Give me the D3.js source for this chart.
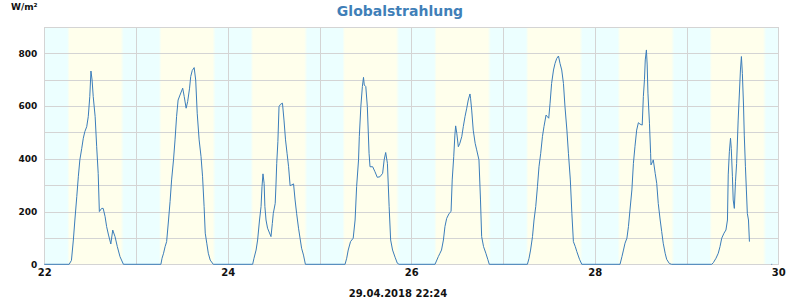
<!DOCTYPE html>
<html>
<head>
<meta charset="utf-8">
<script src="https://cdn.jsdelivr.net/npm/d3@7"></script>
<style>
  body { margin: 0; background: #fff; }
  .chart text { font-family: "DejaVu Sans", sans-serif; font-weight: bold; }
</style>
</head>
<body>
<div class="chart"></div>
<script>
// days shown (April 2018)
var days = [22, 23, 24, 25, 26, 27, 28, 29];

// hour of day of each reading, one list per day
var dayHours = [
  [0, 6.5, 7.1, 7.6, 8.0, 8.5, 8.9, 9.3, 9.8, 10.2, 10.6, 11.1, 11.5, 11.9, 12.2, 12.5, 12.8, 13.3, 13.7, 14.1, 14.4, 15.0, 15.4, 15.9, 16.3, 16.8, 17.4, 17.9, 18.5, 19.1, 19.8, 20.7],
  [6.5, 6.8, 7.2, 7.6, 8.0, 8.5, 8.9, 9.3, 9.8, 10.2, 10.6, 11.0, 11.5, 12.2, 12.6, 13.1, 13.5, 14.0, 14.3, 14.7, 15.2, 15.6, 16.0, 16.5, 17.0, 17.4, 17.8, 18.1, 18.5, 18.9, 19.4, 20.2],
  [6.5, 6.85, 7.4, 7.8, 8.3, 8.7, 8.95, 9.2, 9.5, 9.7, 10.0, 10.4, 11.3, 11.65, 11.9, 12.4, 12.6, 12.8, 13.1, 13.4, 13.8, 14.3, 14.7, 15.1, 15.5, 15.9, 16.3, 16.7, 17.2, 17.6, 18.0, 18.5, 18.9, 19.3, 19.8, 20.3],
  [6.67, 7.1, 7.5, 8.1, 8.8, 9.3, 9.7, 10.2, 10.4, 10.8, 11.2, 11.5, 11.7, 12.1, 12.5, 12.95, 13.2, 13.9, 14.5, 15.1, 15.8, 16.5, 16.9, 17.3, 17.75, 18.2, 18.6, 19.1, 19.75, 20.35, 20.8],
  [6.2, 7.07, 7.5, 7.9, 8.4, 8.8, 9.25, 9.9, 10.4, 10.7, 11.1, 11.4, 11.6, 11.9, 12.3, 12.7, 13.2, 13.6, 14.05, 14.5, 14.9, 15.35, 15.5, 15.8, 16.2, 16.7, 17.1, 17.7, 18.1, 18.4, 18.9, 19.5, 20.0, 20.4],
  [6.37, 6.8, 7.2, 7.7, 8.1, 8.55, 9.0, 9.4, 9.85, 10.3, 10.7, 11.25, 11.6, 11.95, 12.3, 12.7, 13.2, 13.6, 14.05, 14.5, 14.9, 15.35, 15.8, 16.2, 16.7, 17.1, 17.6, 18.0, 18.4, 18.9, 19.3, 20.0, 20.6],
  [6.6, 7.1, 7.5, 7.9, 8.4, 8.8, 9.2, 9.7, 10.1, 10.5, 10.95, 11.4, 11.8, 12.4, 12.7, 13.0, 13.2, 13.5, 13.7, 13.9, 14.3, 14.6, 14.7, 15.1, 15.3, 15.8, 16.2, 16.6, 17.1, 17.5, 17.9, 18.4, 18.8, 19.5, 20.1],
  [6.6, 7.0, 7.7, 8.3, 8.75, 9.2, 9.8, 10.3, 10.7, 10.9, 11.2, 11.5, 11.7, 12.0, 12.2, 12.5, 12.8, 13.1, 13.5, 13.8, 14.1, 14.35, 14.6, 14.9, 15.1, 15.4, 15.65, 15.9, 16.2, 16.45, 16.5, 22.2, 22.4]
];

// global radiation in W/m², same order (null = no reading)
var dayWatts = [
  [0, 0, 15, 92, 168, 257, 332, 396, 440, 478, 503, 522, 560, 636, 733, 699, 636, 560, 446, 345, 200, 212, 212, 181, 143, 111, 77, 130, 105, 67, 29, 0],
  [0, 23, 42, 67, 86, 168, 238, 320, 396, 472, 560, 623, 642, 668, 636, 592, 617, 668, 712, 735, 746, 699, 573, 472, 408, 332, 219, 118, 80, 42, 16, 0],
  [0, 23, 54, 92, 168, 219, 295, 343, 307, 219, 168, 137, 105, 155, 193, 231, 301, 383, 465, 598, 607, 611, 547, 472, 421, 370, 298, 301, 305, 244, 193, 137, 99, 61, 35, 0],
  [0, 23, 54, 86, 99, 168, 295, 396, 484, 598, 674, 709, 680, 674, 598, 421, 370, 370, 351, 330, 332, 345, 396, 424, 383, 219, 92, 54, 27, 4, 0],
  [0, 29, 42, 54, 92, 143, 174, 193, 200, 320, 408, 490, 525, 497, 446, 459, 484, 522, 560, 592, 623, 646, 630, 585, 509, 459, 434, 396, 244, 105, 67, 42, 19, 0],
  [0, 23, 54, 105, 168, 219, 295, 370, 421, 484, 522, 566, 560, 554, 611, 686, 737, 762, 781, 790, 762, 737, 686, 598, 509, 421, 320, 193, 86, 67, 48, 19, 0],
  [0, 29, 54, 80, 99, 143, 206, 282, 383, 446, 509, 537, 532, 528, 636, 702, 775, 813, 756, 649, 535, 421, 377, 389, 396, 345, 307, 231, 168, 124, 80, 42, 19, 3, 0],
  [0, 6, 23, 42, 67, 99, 118, 130, 168, 339, 427, 478, 440, 332, 244, 212, 313, 383, 547, 642, 737, 788, 724, 604, 490, 370, 282, 193, 168, 86, null, 0, 0]
];

var yGridValues = [0, 100, 200, 300, 400, 500, 600, 700, 800];
var yLabelValues = [0, 200, 400, 600, 800];
var xLabelDays = [22, 24, 26, 28, 30];

// twilight (hour of day) for the day/night background
var dawn = [6.0, 6.6];
var dusk = [20.0, 20.8];

var title = "Globalstrahlung";
var unit = "W/m²";
var stamp = "29.04.2018 22:24";

var width = 800, height = 300;
var plot = { left: 44.3, right: 778.3, top: 27, bottom: 264.3 };

var dayDate = function (d, h) { return new Date(2018, 3, d, 0, 0, 0, Math.round((h || 0) * 3600000)); };

var data = [];
days.forEach(function (d, i) {
    dayHours[i].forEach(function (h, j) {
        data.push({ t: dayDate(d, h), v: dayWatts[i][j] });
    });
});

var x = d3.scaleTime().domain([dayDate(22), dayDate(30)]).range([plot.left, plot.right]);
var y = d3.scaleLinear().domain([0, 900]).range([plot.bottom, plot.top]);
var pw = plot.right - plot.left, ph = plot.bottom - plot.top;

var svg = d3.select(".chart").append("svg")
    .attr("width", width)
    .attr("height", height);

// day / night background
var grad = svg.append("defs").append("linearGradient")
    .attr("id", "daylight")
    .attr("gradientUnits", "userSpaceOnUse")
    .attr("x1", plot.left).attr("x2", plot.right).attr("y1", 0).attr("y2", 0);
var night = "#ecffff", daylight = "#ffffec";
var stops = [{ o: 0, c: night }];
days.forEach(function (d) {
    stops.push({ t: dayDate(d, dawn[0]), c: night });
    stops.push({ t: dayDate(d, dawn[1]), c: daylight });
    stops.push({ t: dayDate(d, dusk[0]), c: daylight });
    stops.push({ t: dayDate(d, dusk[1]), c: night });
});
stops.push({ o: 1, c: night });
grad.selectAll("stop")
    .data(stops)
    .enter()
    .append("stop")
    .attr("offset", function (s) { return s.t ? (x(s.t) - plot.left) / pw : s.o; })
    .attr("stop-color", function (s) { return s.c; });

svg.append("rect")
    .attr("x", plot.left).attr("y", plot.top)
    .attr("width", pw).attr("height", ph)
    .attr("fill", "url(#daylight)");

// grid + labels
svg.append("g")
    .attr("transform", "translate(" + plot.left + ",0)")
    .call(d3.axisLeft(y).tickValues(yGridValues).tickSize(-pw).tickPadding(7)
        .tickFormat(function (v) { return yLabelValues.indexOf(v) >= 0 ? v : ""; }))
    .call(function (g) {
        g.select(".domain").remove();
        g.selectAll("line").attr("stroke", "#d4d4d4").attr("shape-rendering", "crispEdges");
        g.selectAll("text").attr("fill", "#111").style("font-size", "9px");
    });

svg.append("g")
    .attr("transform", "translate(0," + plot.bottom + ")")
    .call(d3.axisBottom(x).ticks(d3.timeDay.every(1)).tickSize(-ph).tickPadding(5)
        .tickFormat(function (t) { var d = +d3.timeFormat("%d")(t); return xLabelDays.indexOf(d) >= 0 ? d : ""; }))
    .call(function (g) {
        g.select(".domain").remove();
        g.selectAll("line").attr("stroke", "#d4d4d4").attr("shape-rendering", "crispEdges");
        g.selectAll("text").attr("fill", "#111").style("font-size", "10px");
    });

// frame
svg.append("rect")
    .attr("x", plot.left).attr("y", plot.top)
    .attr("width", pw).attr("height", ph)
    .attr("fill", "none")
    .attr("stroke", "#d4d4d4")
    .attr("shape-rendering", "crispEdges");

// the curve
var line = d3.line()
    .defined(function (d) { return d.v !== null; })
    .x(function (d) { return x(d.t); })
    .y(function (d) { return y(d.v); });

svg.append("path")
    .datum(data)
    .attr("d", line)
    .attr("fill", "none")
    .attr("stroke", "#3b7dba")
    .attr("stroke-width", 1);

// texts
svg.append("text")
    .attr("x", 400).attr("y", 16)
    .attr("text-anchor", "middle")
    .attr("fill", "#3f7fb8")
    .style("font-size", "14px")
    .text(title);

svg.append("text")
    .attr("x", 11).attr("y", 10)
    .attr("fill", "#111")
    .style("font-size", "9px")
    .text(unit);

svg.append("text")
    .attr("x", 398).attr("y", 297)
    .attr("text-anchor", "middle")
    .attr("fill", "#111")
    .style("font-size", "10px")
    .text(stamp);
</script>
</body>
</html>
